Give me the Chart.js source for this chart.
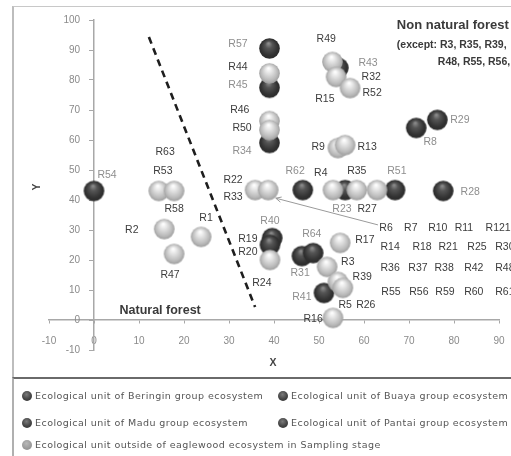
<!DOCTYPE html>
<html><head><meta charset="utf-8">
<script src="https://cdn.jsdelivr.net/npm/chart.js@4/dist/chart.umd.min.js"></script>
<style>
html,body{margin:0;padding:0;background:#fff;overflow:hidden}
#page{position:relative;width:511px;height:456px;overflow:hidden;font-family:"Liberation Sans",Arial,sans-serif;background:#fff}
#cv{position:absolute;left:0;top:0}
#frame{position:absolute;left:12px;top:6px;width:620px;height:372px;border:1px solid #c8c8c8;border-left:2px solid #bdbdbd;box-sizing:border-box;pointer-events:none}
#legend{position:absolute;left:12px;top:377px;width:620px;height:100px;border:1px solid #aaa;border-top:2px solid #6a6a6a;border-left:2px solid #b0b0b0;box-sizing:border-box}
.item{position:absolute;font-family:"DejaVu Sans",sans-serif;font-size:9.5px;letter-spacing:0.45px;color:#555;white-space:nowrap;line-height:12px;height:12px}
.dot{position:absolute;left:0;top:1px;width:10px;height:10px;border-radius:50%}
.dk{background:radial-gradient(circle at 45% 35%,#7a7a7a 0%,#444 55%,#2e2e2e 100%)}
.lt{background:radial-gradient(circle at 45% 35%,#b8b8b8 0%,#999 60%,#8a8a8a 100%)}
.txt{position:absolute;left:13px;top:0}
</style>
</head><body>
<div id="page">
  <canvas id="cv" width="620" height="378"></canvas>
  <div id="frame"></div>
  <div id="legend"></div>
</div>
<script>
// ---------- data ----------
const xTicksMin = -10, xTicksMax = 90;
const yTicksMin = -10, yTicksMax = 100;

// ecological units of eaglewood ecosystems (dark spheres)
const darkX = [0, 39, 39, 39, 54.3, 71.6, 76.3, 46.4, 55.8, 66.9, 77.6, 39.6, 39.1, 46.2, 48.7, 51.1];
const darkY = [43, 90.5, 77.4, 59, 84, 64, 66.7, 43.3, 43.3, 43.3, 43, 27.3, 25, 21.3, 22.3, 9];

// ecological units outside of eaglewood ecosystem (light spheres)
const lightX = [14.4, 17.8, 15.6, 17.8, 23.8, 39, 39, 39, 53, 53.8, 56.9, 54.2, 55.8, 35.8, 38.7, 53.1, 58.4, 62.9, 39.1, 54.7, 51.8, 54.2, 55.3, 53.1];
const lightY = [43, 43, 30.3, 22, 27.7, 82.2, 66.3, 63.3, 86, 81, 77.3, 57.3, 58.3, 43.3, 43.3, 43.3, 43.3, 43.3, 20, 25.7, 17.7, 12.7, 10.7, 0.7];

// boundary between natural and non natural forest
const boundaryX = [12.2, 35.8];
const boundaryY = [94.3, 4.3];

// pointer from label table to the cluster
const arrowX = [63.1, 40.4];
const arrowY = [31.7, 40.6];

// point labels (text, anchor x, anchor y, tone)
const labelText = ['R57','R44','R45','R46','R50','R34','R49','R43','R32','R52','R15','R9','R13','R8','R29',
  'R62','R4','R35','R51','R63','R53','R58','R54','R22','R33','R2','R1','R47','R23','R27','R28',
  'R40','R19','R20','R24','R64','R31','R17','R3','R39','R41','R5','R26','R16',
  'R6','R7','R10','R11','R121','R14','R18','R21','R25','R30','R36','R37','R38','R42','R48','R55','R56','R59','R60','R61'];
const labelX = [32,32,32,32.4,32.9,32.9,51.6,60.9,61.6,61.8,51.3,49.8,60.7,74.7,81.3,
  44.7,50.4,58.4,67.3,15.8,15.3,17.8,2.9,30.9,30.9,8.4,24.9,16.9,55.1,60.7,83.6,
  39.1,34.2,34.2,37.3,48.4,45.8,60.2,56.4,59.6,46.2,55.8,60.4,48.7,
  64.9,70.4,76.4,82.2,89.8,65.8,72.9,78.7,85.1,91.3,65.8,72,77.8,84.4,91.3,66,72.2,78,84.4,91.3];
const labelY = [92,84.3,78.3,70,64,56.3,93.7,85.7,81,75.7,73.7,57.7,57.7,59.3,66.7,
  49.7,49,49.7,49.7,56,49.7,37,48.3,46.7,41,30,34,15,37,37,42.7,
  33,27,22.7,12.3,28.7,15.7,26.7,19.3,14.3,7.7,5,5,0.3,
  30.7,30.7,30.7,30.7,30.7,24.3,24.3,24.3,24.3,24.3,17.3,17.3,17.3,17.3,17.3,9.3,9.3,9.3,9.3,9.3];
const labelTone = ['g','d','g','d','d','g','d','g','d','d','d','d','d','g','g',
  'g','d','d','g','d','d','d','g','d','d','d','d','d','g','d','g',
  'g','d','d','d','g','g','d','d','d','g','d','d','d',
  'd','d','d','d','d','d','d','d','d','d','d','d','d','d','d','d','d','d','d','d'];

// free text notes
const noteText = ['Natural forest','Non natural forest','(except: R3, R35, R39,','R48, R55, R56,'];
const noteX = [14.7, 67.3, 67.3, 76.4];
const noteY = [3.3, 98.3, 91.7, 86];
const noteAlign = ['center','left','left','left'];

const legendLabels = ['Ecological unit of Beringin group ecosystem','Ecological unit of Buaya group ecosystem',
  'Ecological unit of Madu group ecosystem','Ecological unit of Pantai group ecosystem',
  'Ecological unit outside of eaglewood ecosystem in Sampling stage'];

// ---------- legend (HTML) ----------
const legPos = [[22,390],[278,390],[22,417],[278,417],[22,439]];
const page = document.getElementById('page');
legendLabels.forEach((t,i)=>{
  const d = document.createElement('div');
  d.className = 'item';
  d.style.left = legPos[i][0]+'px'; d.style.top = legPos[i][1]+'px';
  d.innerHTML = '<span class="dot '+(i<4?'dk':'lt')+'"></span><span class="txt"></span>';
  d.querySelector('.txt').textContent = t;
  page.appendChild(d);
});

// ---------- sphere point styles ----------
function sphere(r, light){
  const c = document.createElement('canvas');
  const s = Math.ceil(2*r+2); c.width = s; c.height = s;
  const g = c.getContext('2d');
  const cx = s/2, cy = s/2;
  const grd = g.createRadialGradient(cx - r*0.1, cy - r*0.5, r*0.05, cx, cy, r*1.05);
  if (light){
    grd.addColorStop(0,'#ffffff'); grd.addColorStop(0.3,'#e4e4e4');
    grd.addColorStop(0.75,'#bababa'); grd.addColorStop(1,'#999999');
  } else {
    grd.addColorStop(0,'#8c8c8c'); grd.addColorStop(0.3,'#555555');
    grd.addColorStop(0.75,'#323232'); grd.addColorStop(1,'#2a2a2a');
  }
  g.fillStyle = grd; g.beginPath(); g.arc(cx,cy,r,0,Math.PI*2); g.fill();
  return c;
}
const lightBall = sphere(10.3, true);
const darkBall = sphere(10.3, false);

const toPts = (xs, ys) => xs.map((v,i)=>({x:v, y:ys[i]}));

// ---------- annotation plugin ----------
const annot = {
  id:'annot',
  afterDatasetsDraw(chart){
    const {ctx, scales:{x, y}} = chart;
    ctx.save();
    // arrow head
    const x1 = x.getPixelForValue(arrowX[0]), y1 = y.getPixelForValue(arrowY[0]);
    const x2 = x.getPixelForValue(arrowX[1]), y2 = y.getPixelForValue(arrowY[1]);
    const a = Math.atan2(y2-y1, x2-x1);
    ctx.strokeStyle = '#9a9a9a'; ctx.lineWidth = 1;
    ctx.beginPath();
    ctx.moveTo(x2 - 6*Math.cos(a-0.45), y2 - 6*Math.sin(a-0.45));
    ctx.lineTo(x2, y2);
    ctx.lineTo(x2 - 6*Math.cos(a+0.45), y2 - 6*Math.sin(a+0.45));
    ctx.stroke();
    // point labels
    ctx.font = '10.5px "Liberation Sans", Arial, sans-serif';
    ctx.textAlign = 'center'; ctx.textBaseline = 'middle';
    labelText.forEach((t,i)=>{
      ctx.fillStyle = labelTone[i]==='g' ? '#8e8e8e' : '#3c3c3c';
      ctx.fillText(t, x.getPixelForValue(labelX[i]), y.getPixelForValue(labelY[i]));
    });
    // notes
    ctx.fillStyle = '#3a3a3a';
    const noteFont = ['bold 12.5px','bold 13px','bold 10.5px','bold 10.5px'];
    noteText.forEach((t,i)=>{
      ctx.font = noteFont[i] + ' "Liberation Sans", Arial, sans-serif';
      ctx.textAlign = noteAlign[i];
      ctx.fillText(t, x.getPixelForValue(noteX[i]), y.getPixelForValue(noteY[i]));
    });
    // axis titles
    ctx.font = 'bold 10.5px "Liberation Sans", Arial, sans-serif';
    ctx.fillStyle = '#444'; ctx.textAlign = 'center';
    ctx.fillText('X', x.getPixelForValue(39.8), y.bottom + 13);
    ctx.translate(x.left - 12, y.getPixelForValue(44.3));
    ctx.rotate(-Math.PI/2);
    ctx.fillText('Y', 0, 0);
    ctx.restore();
  }
};

new Chart(document.getElementById('cv'), {
  type:'scatter',
  data:{datasets:[
    {label:'Outside eaglewood ecosystem', data:toPts(lightX, lightY), pointStyle:lightBall, clip:false},
    {label:'Eaglewood ecosystem units', data:toPts(darkX, darkY), pointStyle:darkBall, clip:false},
    {label:'boundary', data:toPts(boundaryX, boundaryY), showLine:true, borderColor:'#1e1e1e', borderWidth:2.6, borderDash:[7,5], pointRadius:0},
    {label:'pointer', data:toPts(arrowX, arrowY), showLine:true, borderColor:'#9a9a9a', borderWidth:1, pointRadius:0}
  ]},
  options:{
    responsive:false, animation:false, devicePixelRatio:1,
    layout:{padding:{left:49, right:121, top:20, bottom:28}},
    plugins:{legend:{display:false}, tooltip:{enabled:false}},
    events:[],
    scales:{
      x:{type:'linear', min:xTicksMin, max:xTicksMax, position:{y:0},
        afterFit(s){ s.height = 0; },
        ticks:{stepSize:10, color:'#8a8a8a', font:{size:10, family:'"Liberation Sans", Arial'}, padding:12, maxRotation:0, autoSkip:false},
        grid:{drawOnChartArea:false, tickLength:3, color:'#a8a8a8'},
        border:{color:'#a8a8a8', width:1.5}},
      y:{type:'linear', min:yTicksMin, max:yTicksMax, position:{x:0},
        afterFit(s){ s.width = 0; },
        ticks:{stepSize:10, color:'#8a8a8a', font:{size:10, family:'"Liberation Sans", Arial'}, autoSkip:false,
          callback:(v)=> v + '     '},
        grid:{drawOnChartArea:false, tickLength:4, color:'#a8a8a8'},
        border:{color:'#a8a8a8', width:1.5}}
    }
  },
  plugins:[annot]
});
</script>
</body></html>
